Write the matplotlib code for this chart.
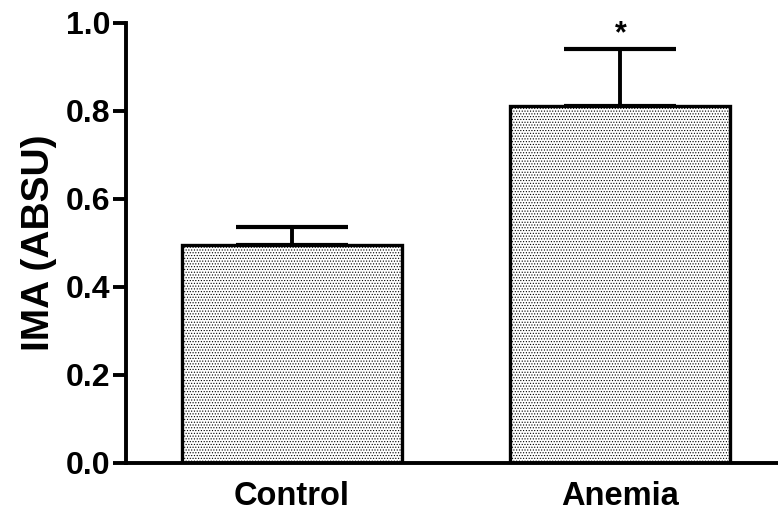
import matplotlib
matplotlib.use('Agg')
import matplotlib.pyplot as plt
import numpy as np

plt.rcParams['font.family'] = ['Liberation Sans', 'DejaVu Sans']
plt.rcParams['font.weight'] = 'bold'
plt.rcParams['hatch.linewidth'] = 0.5

groups = ['Control', 'Anemia']
means = [0.495, 0.81]
sem = [0.04, 0.13]
marks = ['', '*']

fig = plt.figure(figsize=(7.78, 5.19), dpi=100)
ax = fig.add_axes([0.162, 0.108, 0.838, 0.848])

x = np.arange(len(groups))
ax.bar(x, means, width=0.67, color='white', edgecolor='black', linewidth=2.4,
       hatch='......', zorder=2)
ax.errorbar(x, means, yerr=[np.zeros(len(sem)), sem], fmt='none', ecolor='black',
            elinewidth=2.8, capsize=40, capthick=3, zorder=1)
for xi, m, s, t in zip(x, means, sem, marks):
    ax.text(xi, m + s + 0.0, t, ha='center', va='bottom', fontsize=22)

ax.set_xlim(-0.505, 1.48)
ax.set_ylim(0, 1.0)
ax.set_yticks(np.arange(0, 1.01, 0.2))
ax.set_yticklabels(['%.1f' % v for v in np.arange(0, 1.01, 0.2)])
ax.set_xticks(x)
ax.set_xticklabels(groups)
ax.tick_params(axis='y', length=9.5, width=2.8, labelsize=23, pad=2)
ax.tick_params(axis='x', length=0, labelsize=23.5, pad=13)
ax.set_ylabel('IMA (ABSU)', fontsize=28, fontweight='bold', labelpad=6)

ax.spines['top'].set_visible(False)
ax.spines['right'].set_visible(False)
ax.spines['left'].set_linewidth(2.8)
ax.spines['bottom'].set_linewidth(2.8)
ax.spines['left'].set_zorder(3)
ax.spines['bottom'].set_zorder(3)

fig.savefig('out.png', dpi=100)
